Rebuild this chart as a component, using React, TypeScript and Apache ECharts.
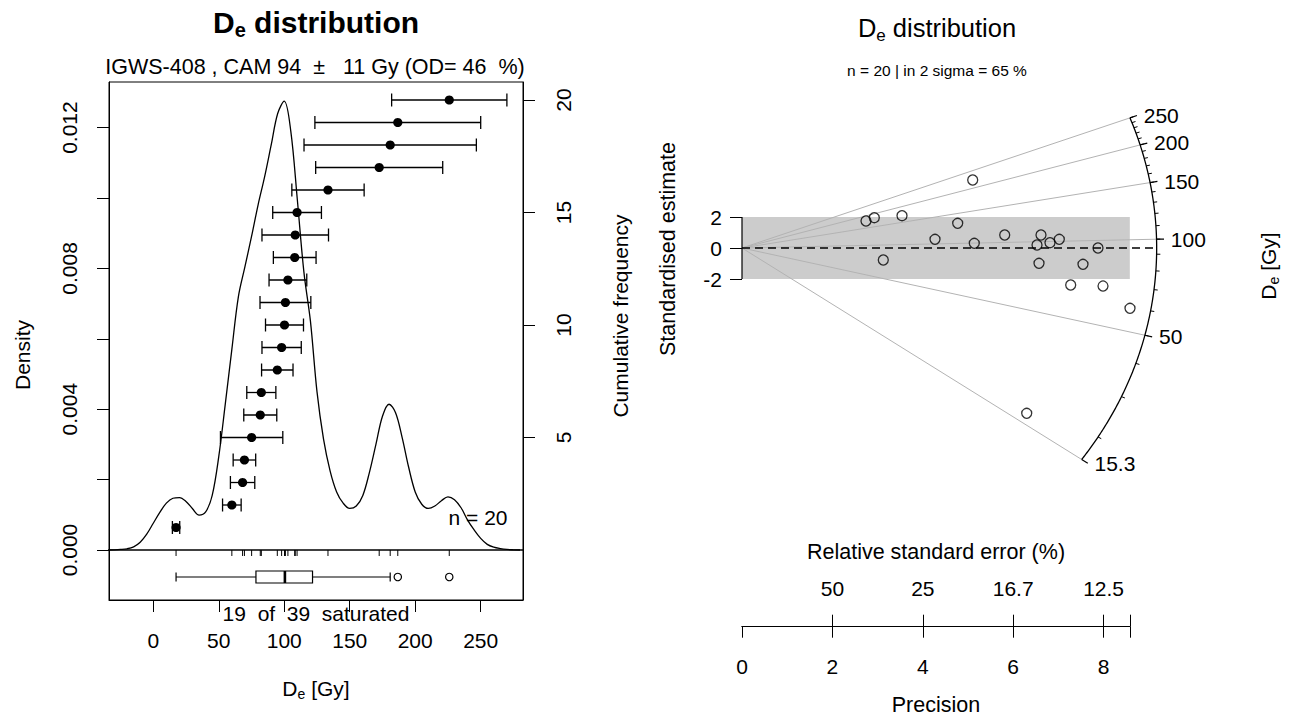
import React, { useEffect, useRef } from "react";
import * as echarts from "echarts";

const FONT = "'Liberation Sans', Arial, Helvetica, sans-serif";
const BLACK = "#000000";
const FS = 21;

// ---------------- left panel: KDE + cumulative frequency ----------------
const deValues = [17.4, 60.0, 68.2, 69.6, 75.1, 81.7, 82.5, 94.7, 98.0, 100.2, 100.9, 102.8, 108.0, 108.4, 109.8, 133.4, 172.5, 180.9, 186.7, 226.0];
const deErrors = [2.8, 7.1, 9.3, 8.6, 23.8, 12.6, 11.1, 12.0, 15.0, 14.5, 19.4, 14.4, 16.3, 25.4, 18.6, 27.6, 48.5, 65.8, 63.3, 44.0];

const kdeDose = [-35, -30, -25, -20, -15, -10, -5, 0, 5, 10, 15, 20, 25, 30, 35, 40, 45, 50, 55, 60, 65, 70, 75, 80, 85, 90, 95, 100, 105, 110, 115, 120, 125, 130, 135, 140, 145, 150, 155, 160, 165, 170, 175, 180, 185, 190, 195, 200, 205, 210, 215, 220, 225, 230, 235, 240, 245, 250, 255, 260, 265, 270, 275, 280];
const kdeDensity = [0, 0.000005, 0.000015, 0.000035, 0.00009, 0.00022, 0.00045, 0.00076, 0.00107, 0.00133, 0.00147, 0.00149, 0.00138, 0.00117, 0.00099, 0.00108, 0.00155, 0.00265, 0.00415, 0.0057, 0.0072, 0.00805, 0.0089, 0.0098, 0.0106, 0.0115, 0.0124, 0.01275, 0.0119, 0.00995, 0.0079, 0.0065, 0.0045, 0.00315, 0.00225, 0.00165, 0.00133, 0.00118, 0.00125, 0.00155, 0.0022, 0.003, 0.0038, 0.00414, 0.0039, 0.0032, 0.00235, 0.00165, 0.0013, 0.00118, 0.00125, 0.0014, 0.00151, 0.00143, 0.0012, 0.00085, 0.00057, 0.00033, 0.00016, 0.00008, 0.00004, 0.000015, 0.000005, 0];

// whisker low, lower hinge, median, upper hinge, whisker high
const boxStats = [17.4, 78.4, 100.5, 121.6, 180.9];
const boxOutliers = [186.7, 226.0];

const doseTicks = [0, 50, 100, 150, 200, 250];
const densityTickMarks = [0, 0.002, 0.004, 0.006, 0.008, 0.01, 0.012];
const densityTickLabels = [0, 0.004, 0.008, 0.012];
const cumulativeTicks = [5, 10, 15, 20];

// ---------------- right panel: radial plot ----------------
const radialPrecision = [2.743, 2.927, 3.54, 5.104, 4.772, 4.27, 5.139, 5.812, 6.615, 6.527, 6.814, 7.02, 7.876, 3.126, 6.571, 7.544, 7.272, 7.987, 8.584, 6.299];
const radialStdEstimate = [1.742, 1.955, 2.084, 4.387, 1.594, 0.561, 0.303, 0.839, 0.839, 0.194, 0.342, 0.561, 0.0, -0.774, -0.987, -1.052, -2.387, -2.452, -3.89, -10.665];
const zCentral = 94;
const zMajorTicks = [15.3, 50, 100, 150, 200, 250];
const zMinorTicks = [20, 30, 40, 50, 60, 70, 80, 90, 100, 110, 120, 130, 140, 150, 160, 170, 180, 190, 200, 210, 220, 230, 240, 250];
const precisionTicks = [0, 2, 4, 6, 8];
const rseTicks = [2, 4, 6, 8];
const stdTicks = [-2, 0, 2];

// layout constants of the radial plot
const PREC_MAX = 8.58;
const ELL_R = 9.174;
const ELL_F = 0.3857;

function ellipsePoint(d: number, scale = 1): number[] {
  const s = Math.log(d) - Math.log(zCentral);
  const x = (scale * ELL_R) / Math.sqrt(1 + ELL_F * ELL_F * s * s);
  return [x, s * x];
}

function txt(text: string, x: number, y: number, size: number, opts: any = {}) {
  return {
    type: "text",
    x,
    y,
    rotation: opts.rotation || 0,
    style: {
      text,
      fill: BLACK,
      font: `${opts.bold ? "bold " : ""}${size}px ${FONT}`,
      align: opts.align || "center",
      textAlign: opts.align || "center",
      verticalAlign: "middle",
      textVerticalAlign: "middle",
    },
  };
}

function subText(main: string, sub: string, rest: string, x: number, y: number, size: number, bold: boolean, rotation = 0) {
  const w = bold ? "bold" : "normal";
  const lh = Math.round(size * 1.2);
  const sh = Math.round(size * 0.45);
  return {
    type: "text",
    x,
    y,
    rotation,
    style: {
      text: `{a|${main}}{s|${sub}}{a|${rest}}`,
      align: "center",
      textAlign: "center",
      verticalAlign: "middle",
      textVerticalAlign: "middle",
      rich: {
        a: { fontSize: size, fontWeight: w, fontFamily: FONT, fill: BLACK, color: BLACK, lineHeight: lh },
        s: { fontSize: Math.round(size * 0.68), fontWeight: w, fontFamily: FONT, fill: BLACK, color: BLACK, lineHeight: sh, verticalAlign: "bottom" },
      },
    },
  };
}

function buildOption(): any {
  const axisLabelBase = { color: BLACK, fontSize: FS, fontFamily: FONT };
  const lineBase = { lineStyle: { color: BLACK, width: 1 } };

  const errData = deValues.map((v, i) => [v - deErrors[i], v + deErrors[i], v, i + 1]);
  const radialData = radialPrecision.map((p, i) => [p, radialStdEstimate[i]]);
  const kdeData = kdeDose.map((d, i) => [d, kdeDensity[i]]);

  return {
    animation: false,
    backgroundColor: "#ffffff",
    textStyle: { fontFamily: FONT },
    grid: [
      { left: 109, top: 82, width: 414, height: 518, show: true, borderColor: BLACK, borderWidth: 1, backgroundColor: "transparent" },
      { left: 742, top: 93, width: PREC_MAX * 45.2, height: 533.7, show: false },
    ],
    xAxis: [
      {
        gridIndex: 0, type: "value", min: -33.8, max: 282.3, position: "bottom",
        axisLine: { show: true, onZero: false, ...lineBase },
        axisTick: { show: true, customValues: doseTicks, length: 12, ...lineBase },
        axisLabel: { ...axisLabelBase, customValues: doseTicks, margin: 30 },
        splitLine: { show: false },
      },
      {
        gridIndex: 1, type: "value", min: 0, max: PREC_MAX, position: "bottom",
        axisLine: { show: true, onZero: false, ...lineBase },
        axisTick: { show: true, customValues: [...precisionTicks, PREC_MAX], length: 11, ...lineBase },
        axisLabel: { ...axisLabelBase, customValues: precisionTicks, margin: 29 },
        splitLine: { show: false },
      },
      {
        gridIndex: 1, type: "value", min: 0, max: PREC_MAX, position: "top", offset: -533.7,
        axisLine: { show: true, onZero: false, ...lineBase },
        axisTick: { show: true, customValues: [...rseTicks, PREC_MAX], length: 12, ...lineBase },
        axisLabel: {
          ...axisLabelBase, customValues: rseTicks, margin: 28,
          formatter: (v: number) => String(Number((100 / v).toPrecision(3))),
        },
        splitLine: { show: false },
      },
    ],
    yAxis: [
      {
        gridIndex: 0, type: "value", min: -0.0014205, max: 0.013295, position: "left",
        axisLine: { show: true, onZero: false, ...lineBase },
        axisTick: { show: true, customValues: densityTickMarks, length: 12, ...lineBase },
        axisLabel: { ...axisLabelBase, customValues: densityTickLabels, rotate: 90, margin: 29, formatter: (v: number) => v.toFixed(3) },
        splitLine: { show: false },
      },
      {
        gridIndex: 0, type: "value", min: -2.222, max: 20.8, position: "right",
        axisLine: { show: true, onZero: false, ...lineBase },
        axisTick: { show: true, customValues: cumulativeTicks, length: 12, ...lineBase },
        axisLabel: { ...axisLabelBase, customValues: cumulativeTicks, rotate: 90, margin: 30 },
        splitLine: { show: false },
      },
      {
        gridIndex: 1, type: "value", min: -24.43, max: 10, position: "left",
        axisLine: { show: false, onZero: false },
        axisTick: { show: true, customValues: stdTicks, length: 12, ...lineBase },
        axisLabel: { ...axisLabelBase, customValues: stdTicks, margin: 20 },
        splitLine: { show: false },
      },
    ],
    series: [
      // KDE curve
      {
        type: "line", xAxisIndex: 0, yAxisIndex: 0, data: kdeData, smooth: 0.35, showSymbol: false, symbol: "none",
        lineStyle: { color: BLACK, width: 1.3 }, clip: true, z: 3,
      },
      // baseline, rug and boxplot
      {
        type: "custom", xAxisIndex: 0, yAxisIndex: 0, data: [[0, 0]], clip: false, z: 4,
        renderItem: (params: any, api: any) => {
          const cs = params.coordSys;
          const base = api.coord([0, 0])[1];
          const X = (v: number) => api.coord([v, 0])[0];
          const cy = base + 27;
          const st = { stroke: BLACK, lineWidth: 1.2 };
          const ch: any[] = [];
          ch.push({ type: "line", shape: { x1: cs.x, y1: base, x2: cs.x + cs.width, y2: base }, style: { stroke: BLACK, lineWidth: 1.3 } });
          deValues.forEach((v) => ch.push({ type: "line", shape: { x1: X(v), y1: base, x2: X(v), y2: base + 6 }, style: { stroke: BLACK, lineWidth: 1 } }));
          ch.push({ type: "line", shape: { x1: X(boxStats[0]), y1: cy, x2: X(boxStats[1]), y2: cy }, style: st });
          ch.push({ type: "line", shape: { x1: X(boxStats[3]), y1: cy, x2: X(boxStats[4]), y2: cy }, style: st });
          ch.push({ type: "line", shape: { x1: X(boxStats[0]), y1: cy - 4.5, x2: X(boxStats[0]), y2: cy + 4.5 }, style: st });
          ch.push({ type: "line", shape: { x1: X(boxStats[4]), y1: cy - 4.5, x2: X(boxStats[4]), y2: cy + 4.5 }, style: st });
          ch.push({ type: "rect", shape: { x: X(boxStats[1]), y: cy - 6, width: X(boxStats[3]) - X(boxStats[1]), height: 12 }, style: { fill: "#ffffff", stroke: BLACK, lineWidth: 1.2 } });
          ch.push({ type: "line", shape: { x1: X(boxStats[2]), y1: cy - 6, x2: X(boxStats[2]), y2: cy + 6 }, style: { stroke: BLACK, lineWidth: 2.6 } });
          boxOutliers.forEach((v) => ch.push({ type: "circle", shape: { cx: X(v), cy, r: 3.7 }, style: { fill: "none", stroke: BLACK, lineWidth: 1.2 } }));
          return { type: "group", children: ch };
        },
      },
      // cumulative frequency error bars
      {
        type: "custom", xAxisIndex: 0, yAxisIndex: 1, data: errData, clip: false, z: 5,
        renderItem: (params: any, api: any) => {
          const y = api.value(3);
          const a = api.coord([api.value(0), y]);
          const b = api.coord([api.value(1), y]);
          const c = api.coord([api.value(2), y]);
          const cap = 6.5;
          const st = { stroke: BLACK, lineWidth: 1.3 };
          return {
            type: "group",
            children: [
              { type: "line", shape: { x1: a[0], y1: a[1], x2: b[0], y2: b[1] }, style: st },
              { type: "line", shape: { x1: a[0], y1: a[1] - cap, x2: a[0], y2: a[1] + cap }, style: st },
              { type: "line", shape: { x1: b[0], y1: b[1] - cap, x2: b[0], y2: b[1] + cap }, style: st },
              { type: "circle", shape: { cx: c[0], cy: c[1], r: 4.6 }, style: { fill: BLACK } },
            ],
          };
        },
      },
      // radial plot decorations
      {
        type: "custom", xAxisIndex: 1, yAxisIndex: 2, data: [[0, 0]], clip: false, z: 2,
        renderItem: (params: any, api: any) => {
          const P = (x: number, y: number) => api.coord([x, y]);
          const ch: any[] = [];
          const b1 = P(0, 2);
          const b2 = P(PREC_MAX, -2);
          ch.push({ type: "rect", shape: { x: b1[0], y: b1[1], width: b2[0] - b1[0], height: b2[1] - b1[1] }, style: { fill: "#cccccc" } });
          const o = P(0, 0);
          zMajorTicks.forEach((d) => {
            const e = ellipsePoint(d);
            const p = P(e[0], e[1]);
            ch.push({ type: "line", shape: { x1: o[0], y1: o[1], x2: p[0], y2: p[1] }, style: { stroke: "#b3b3b3", lineWidth: 1 } });
          });
          const dEnd = P(ELL_R * 0.995, 0);
          ch.push({ type: "line", shape: { x1: o[0], y1: o[1], x2: dEnd[0], y2: dEnd[1] }, style: { stroke: BLACK, lineWidth: 1.3, lineDash: [8, 5] } });
          const pts: number[][] = [];
          const lo = Math.log(zMajorTicks[0]);
          const hi = Math.log(zMajorTicks[zMajorTicks.length - 1]);
          const N = 160;
          for (let i = 0; i <= N; i++) {
            const e = ellipsePoint(Math.exp(lo + ((hi - lo) * i) / N));
            pts.push(P(e[0], e[1]));
          }
          ch.push({ type: "polyline", shape: { points: pts }, style: { stroke: BLACK, lineWidth: 1.3, fill: "none" } });
          zMinorTicks.forEach((d) => {
            const a = ellipsePoint(d, 1);
            const b = ellipsePoint(d, 1.009);
            const pa = P(a[0], a[1]);
            const pb = P(b[0], b[1]);
            ch.push({ type: "line", shape: { x1: pa[0], y1: pa[1], x2: pb[0], y2: pb[1] }, style: { stroke: BLACK, lineWidth: 1 } });
          });
          zMajorTicks.forEach((d) => {
            const a = ellipsePoint(d, 1);
            const b = ellipsePoint(d, 1.018);
            const pa = P(a[0], a[1]);
            const pb = P(b[0], b[1]);
            ch.push({ type: "line", shape: { x1: pa[0], y1: pa[1], x2: pb[0], y2: pb[1] }, style: { stroke: BLACK, lineWidth: 1.2 } });
            const l = ellipsePoint(d, 1.02);
            const pl = P(l[0], l[1]);
            ch.push({
              type: "text", x: pl[0] + 6, y: pl[1],
              style: { text: String(d), fill: BLACK, font: `${FS}px ${FONT}`, align: "left", textAlign: "left", verticalAlign: "middle", textVerticalAlign: "middle" },
            });
          });
          const t = P(0, 2);
          const bt = P(0, -2);
          ch.push({ type: "line", shape: { x1: t[0], y1: t[1], x2: bt[0], y2: bt[1] }, style: { stroke: BLACK, lineWidth: 1.2 } });
          return { type: "group", children: ch };
        },
      },
      // radial plot points
      {
        type: "scatter", xAxisIndex: 1, yAxisIndex: 2, data: radialData, symbol: "circle", symbolSize: 10, z: 6, clip: false,
        itemStyle: { color: "rgba(255,255,255,0)", borderColor: BLACK, borderWidth: 1.3 },
      },
    ],
    graphic: {
      elements: [
        subText("D", "e", " distribution", 316, 22, 30, true),
        txt("IGWS-408 , CAM 94  \u00b1   11 Gy (OD= 46  %)", 315, 67, 21.5),
        txt("Density", 22, 355, FS, { rotation: Math.PI / 2 }),
        txt("Cumulative frequency", 620, 316, FS, { rotation: Math.PI / 2 }),
        txt("n = 20", 478, 517, FS),
        txt("19  of  39  saturated", 316, 613, FS),
        subText("D", "e", " [Gy]", 316, 688, FS, false),
        subText("D", "e", " distribution", 937, 28, 25.5, false),
        txt("n = 20 | in 2 sigma = 65 %", 937, 70, 15.5),
        txt("Standardised estimate", 668, 249, 21.5, { rotation: Math.PI / 2 }),
        subText("D", "e", " [Gy]", 1268, 266, FS, false, Math.PI / 2),
        txt("Relative standard error (%)", 936, 552, 21.5),
        txt("Precision", 936, 705, 21.5),
      ],
    },
  };
}

export default function App() {
  const ref = useRef<HTMLDivElement>(null);
  useEffect(() => {
    if (!ref.current) return;
    const chart = echarts.init(ref.current, null, { renderer: "svg" });
    chart.setOption(buildOption());
    return () => chart.dispose();
  }, []);
  return (
    <div
      ref={ref}
      style={{ position: "fixed", left: 0, top: 0, width: 1290, height: 717, background: "#ffffff" }}
    />
  );
}
